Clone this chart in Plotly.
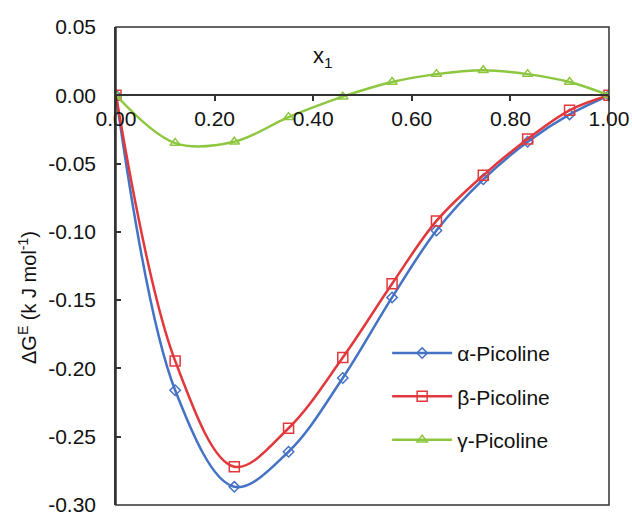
import plotly.graph_objects as go

x1 = [0.0, 0.12, 0.24, 0.35, 0.46, 0.56, 0.65, 0.745, 0.835, 0.92, 1.0]
alpha = [0.0, -0.216, -0.2867, -0.261, -0.207, -0.148, -0.099, -0.0615, -0.034, -0.014, 0.0]
beta = [0.0, -0.1945, -0.272, -0.2438, -0.192, -0.138, -0.092, -0.0586, -0.032, -0.011, 0.0]
gamma = [0.0, -0.035, -0.034, -0.016, -0.001, 0.0097, 0.0155, 0.0183, 0.0155, 0.0097, 0.0]

x_ticks = [0.0, 0.2, 0.4, 0.6, 0.8, 1.0]
y_ticks = [0.05, 0.0, -0.05, -0.10, -0.15, -0.20, -0.25, -0.30]

FONT = "Liberation Sans, Arial, sans-serif"
BLUE = "#4472C4"
RED = "#E2383C"
GREEN = "#8DC63F"

fig = go.Figure()
series = [
    ("α-Picoline", alpha, BLUE, "diamond-open", 8),
    ("β-Picoline", beta, RED, "square-open", 10),
    ("γ-Picoline", gamma, GREEN, "triangle-up-open", 9),
]
for name, ys, col, sym, sz in series:
    fig.add_trace(go.Scatter(
        x=x1, y=ys, name=name, mode="lines+markers",
        line=dict(color=col, width=2.5, shape="spline", smoothing=1.0),
        marker=dict(symbol=sym, size=sz, color=col, line=dict(color=col, width=1.5)),
        legendgroup=name,
    ))

y_lo, y_hi = -0.30, 0.05
zero_pos = (0 - y_lo) / (y_hi - y_lo)

fig.update_layout(
    width=632, height=515,
    margin=dict(l=116, r=23, t=27, b=10, autoexpand=False),
    plot_bgcolor="white", paper_bgcolor="white",
    font=dict(family=FONT, size=21, color="#111111"),
    showlegend=True,
    legend=dict(
        x=0.55, y=0.36, xanchor="left", yanchor="top",
        font=dict(family=FONT, size=21, color="#111111"),
        bgcolor="rgba(0,0,0,0)", tracegroupgap=13, traceorder="grouped",
        itemwidth=60,
    ),
    xaxis=dict(
        range=[0, 1], tickvals=x_ticks, ticktext=[f"{v:.2f}" for v in x_ticks],
        showgrid=False, zeroline=False, showline=True, linecolor="#333333", linewidth=1.5,
        ticks="outside", ticklen=5, tickwidth=1.5, tickcolor="#333333",
        anchor="free", position=zero_pos, ticklabeloverflow="allow", automargin=False,
        tickfont=dict(family=FONT, size=21, color="#111111"),
    ),
    yaxis=dict(
        range=[y_lo, y_hi], tickvals=y_ticks, ticktext=[f"{v:.2f}" for v in y_ticks],
        showgrid=False, zeroline=False, showline=True, linecolor="#333333", linewidth=1.5,
        ticks="inside", ticklen=5, tickwidth=1.5, tickcolor="#333333",
        ticklabelstandoff=14, ticklabeloverflow="allow", automargin=False,
        tickfont=dict(family=FONT, size=21, color="#111111"),
    ),
    shapes=[dict(type="rect", xref="paper", yref="paper", x0=0, y0=0, x1=1, y1=1,
                 line=dict(color="#333333", width=1.5), layer="above")],
    annotations=[
        dict(text="x<sub>1</sub>", xref="paper", yref="paper", x=(323 - 116) / 493,
             y=(505 - 57) / 478, xanchor="center", yanchor="middle", showarrow=False,
             font=dict(family=FONT, size=22, color="#111111")),
        dict(text="ΔG<sup>E</sup> (k J mol<sup>-1</sup>)", xref="paper", yref="paper",
             x=-(116 - 27) / 493, y=(505 - 298) / 478, xanchor="center", yanchor="middle",
             textangle=-90, showarrow=False,
             font=dict(family=FONT, size=20, color="#111111")),
    ],
)

fig.write_html(
    "out.html",
    config={"displayModeBar": False},
    post_script="document.documentElement.style.margin='0';document.body.style.margin='0';"
                "document.body.style.padding='0';document.body.style.overflow='hidden';",
)
